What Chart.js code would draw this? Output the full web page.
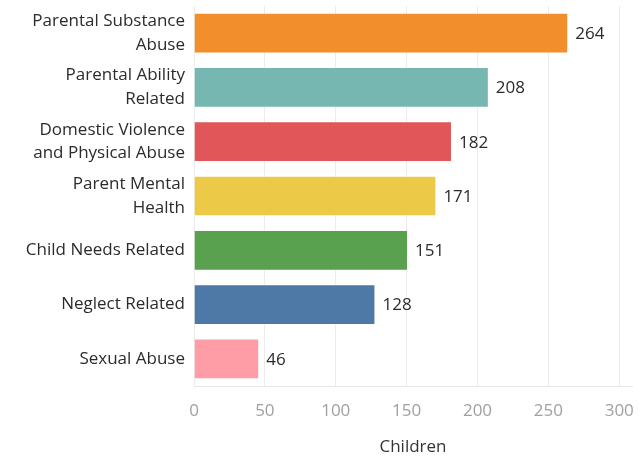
<!DOCTYPE html>
<html>
<head>
<meta charset="utf-8">
<script src="https://cdn.jsdelivr.net/npm/chart.js@4"></script>
<style>
  body { margin: 0; background: #fff; }
  #wrap { width: 639px; height: 458px; }
</style>
</head>
<body>
<div id="wrap"><canvas id="chart" width="639" height="458"></canvas></div>
<script>
// Data
const categories = [
    ['Parental Substance', 'Abuse'],
    ['Parental Ability', 'Related'],
    ['Domestic Violence', 'and Physical Abuse'],
    ['Parent Mental', 'Health'],
    'Child Needs Related',
    'Neglect Related',
    'Sexual Abuse'
];
const children = [264, 208, 182, 171, 151, 128, 46];
const barColors = ['#F28E2B', '#76B7B2', '#E15759', '#EDC948', '#59A14F', '#4E79A7', '#FF9DA7'];
const xTicks = [0, 50, 100, 150, 200, 250, 300];

const FONT = '"Open Sans"';

// Draws the value next to the end of each bar
const valueLabels = {
    id: 'valueLabels',
    afterDatasetsDraw(chart) {
        const ctx = chart.ctx;
        const meta = chart.getDatasetMeta(0);
        ctx.save();
        ctx.font = '500 17px ' + FONT;
        ctx.fillStyle = '#2b2b2b';
        ctx.textAlign = 'left';
        ctx.textBaseline = 'middle';
        meta.data.forEach((bar, i) => {
            const { x, y } = bar.getProps(['x', 'y'], true);
            ctx.fillText(children[i], x + 7, y + 1);
        });
        ctx.restore();
    }
};

new Chart(document.getElementById('chart'), {
    type: 'bar',
    data: {
        labels: categories,
        datasets: [{
            data: children,
            backgroundColor: barColors,
            borderColor: 'rgba(255,255,255,0.35)',
            borderWidth: 1,
            barPercentage: 0.75,
            categoryPercentage: 1
        }]
    },
    options: {
        indexAxis: 'y',
        responsive: false,
        animation: false,
        layout: { padding: { top: 6, right: 7, left: 0, bottom: 0 } },
        plugins: {
            legend: { display: false },
            tooltip: { enabled: false }
        },
        scales: {
            x: {
                min: 0,
                max: 309,
                afterBuildTicks: (axis) => {
                    axis.ticks = xTicks.map(v => ({ value: v }));
                },
                afterFit: (axis) => {
                    axis.height = 72;
                    axis.paddingLeft = 0;
                    axis.paddingRight = 0;
                },
                grid: { color: '#ececec', drawTicks: false },
                border: { color: '#e6e6e6' },
                ticks: {
                    padding: 15,
                    color: '#a0a0a0',
                    font: { family: FONT, size: 17 }
                },
                title: {
                    display: true,
                    text: 'Children',
                    color: '#333',
                    font: { family: FONT, size: 17, weight: '500' },
                    padding: { top: 4, bottom: 1 }
                }
            },
            y: {
                afterFit: (axis) => {
                    axis.width = 194;
                    axis.paddingTop = 0;
                    axis.paddingBottom = 0;
                },
                grid: { display: false, drawTicks: false },
                border: { display: false },
                ticks: {
                    padding: 9,
                    color: '#2b2b2b',
                    font: { family: FONT, size: 17, weight: '500', lineHeight: 1.4 }
                }
            }
        }
    },
    plugins: [valueLabels]
});
</script>
</body>
</html>
